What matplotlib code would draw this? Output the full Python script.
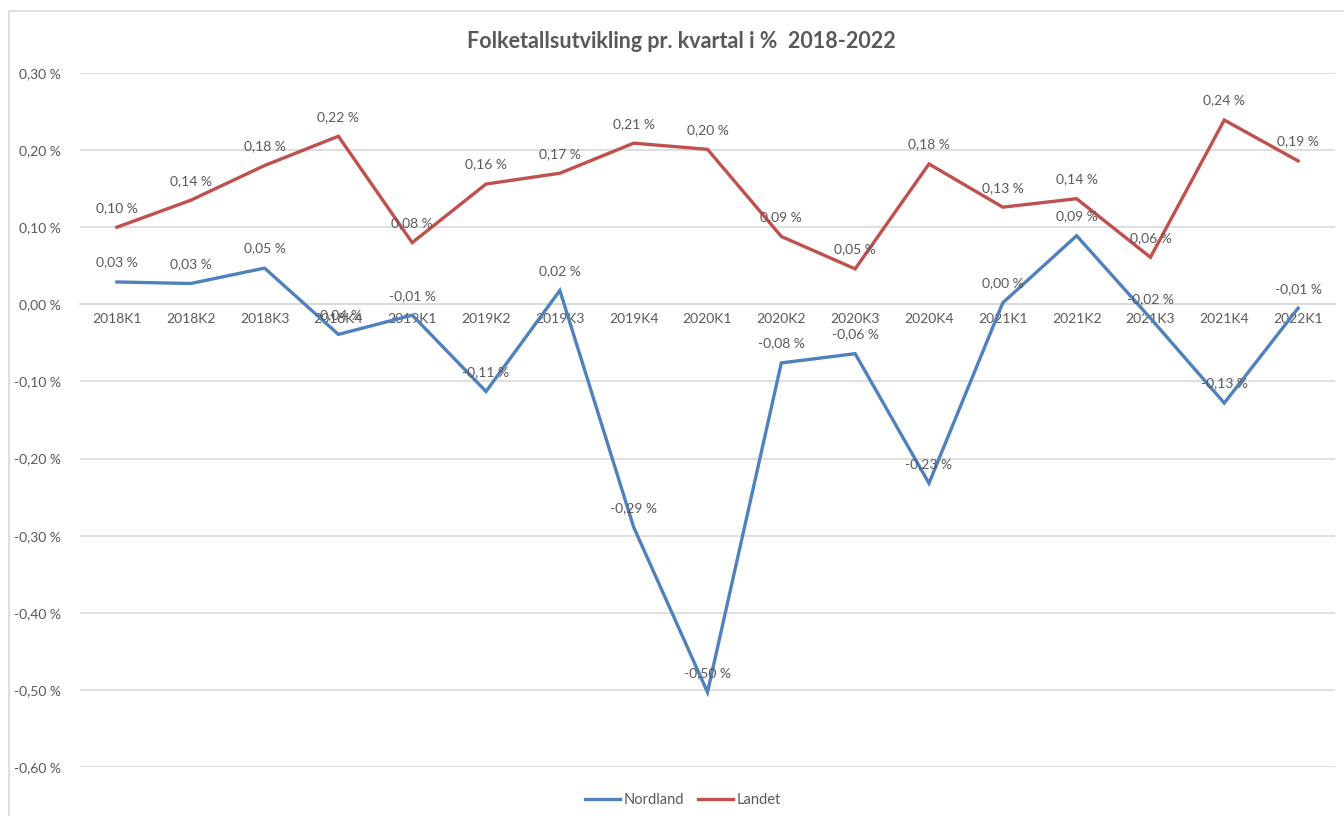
import matplotlib
matplotlib.use("Agg")
import matplotlib.pyplot as plt
from matplotlib.lines import Line2D

plt.rcParams['font.family'] = ['Lato', 'DejaVu Sans']

quarters = ['2018K1', '2018K2', '2018K3', '2018K4', '2019K1', '2019K2', '2019K3', '2019K4',
            '2020K1', '2020K2', '2020K3', '2020K4', '2021K1', '2021K2', '2021K3', '2021K4',
            '2022K1']
nordland = [0.029, 0.027, 0.047, -0.039, -0.014, -0.113, 0.018, -0.289, -0.503,
            -0.076, -0.064, -0.232, 0.002, 0.089, -0.018, -0.128, -0.005]
landet = [0.100, 0.135, 0.180, 0.218, 0.080, 0.156, 0.170, 0.209, 0.201,
          0.088, 0.046, 0.182, 0.126, 0.137, 0.061, 0.239, 0.186]
yticks = [0.3, 0.2, 0.1, 0.0, -0.1, -0.2, -0.3, -0.4, -0.5, -0.6]

BLUE = '#4F81BD'
RED = '#C0504D'
TEXT = '#595959'
GRID = '#D9D9D9'


def pct(v):
    return f"{v:.2f} %".replace('.', ',')


fig = plt.figure(figsize=(13.44, 8.16), dpi=100)
ax = fig.add_axes([80 / 1344, 1 - 767 / 816, 1255 / 1344, 694 / 816])

# chart frame (left and top edges visible)
fig.add_artist(Line2D([9 / 1344, 9 / 1344], [0, 1 - 11 / 816], transform=fig.transFigure,
                      color=GRID, lw=1.2))
fig.add_artist(Line2D([9 / 1344, 1], [1 - 11 / 816, 1 - 11 / 816], transform=fig.transFigure,
                      color=GRID, lw=1.2))

x = list(range(len(quarters)))
ax.plot(x, nordland, color=BLUE, lw=2.4, solid_joinstyle='miter', label='Nordland', zorder=3)
ax.plot(x, landet, color=RED, lw=2.4, solid_joinstyle='miter', label='Landet', zorder=3)

for xi, v in zip(x, nordland):
    ax.annotate(pct(v), (xi, v), xytext=(0, 14), textcoords='offset points',
                ha='center', va='center', fontsize=10, color=TEXT, zorder=4)
for xi, v in zip(x, landet):
    ax.annotate(pct(v), (xi, v), xytext=(0, 14), textcoords='offset points',
                ha='center', va='center', fontsize=10, color=TEXT, zorder=4)

ax.set_xlim(-0.5, len(quarters) - 0.5)
ax.set_ylim(-0.6, 0.3)
ax.set_yticks(yticks)
ax.set_yticklabels([pct(v) for v in yticks])
ax.set_xticks(x)
ax.set_xticklabels(quarters)
ax.tick_params(axis='both', length=0, labelsize=10, labelcolor=TEXT)
ax.tick_params(axis='y', pad=14)
ax.tick_params(axis='x', pad=6)
ax.grid(axis='y', color=GRID, lw=1.2)
ax.set_axisbelow(True)
for s in ['top', 'right', 'left']:
    ax.spines[s].set_visible(False)
ax.spines['bottom'].set_position(('data', 0))
ax.spines['bottom'].set_color(GRID)
ax.spines['bottom'].set_linewidth(1.2)

fig.text(681 / 1344, 1 - 42 / 816, 'Folketallsutvikling pr. kvartal i %  2018-2022',
         ha='center', va='center', fontsize=15.5, fontweight='bold', color=TEXT)

fig.legend(handles=ax.get_lines(), loc='center', bbox_to_anchor=(683 / 1344, 1 - 800 / 816),
           ncol=2, frameon=False, fontsize=10.5, labelcolor=TEXT, handlelength=2.4,
           handletextpad=0.2, columnspacing=1.0)

fig.savefig('out.png', dpi=100, facecolor='white')
